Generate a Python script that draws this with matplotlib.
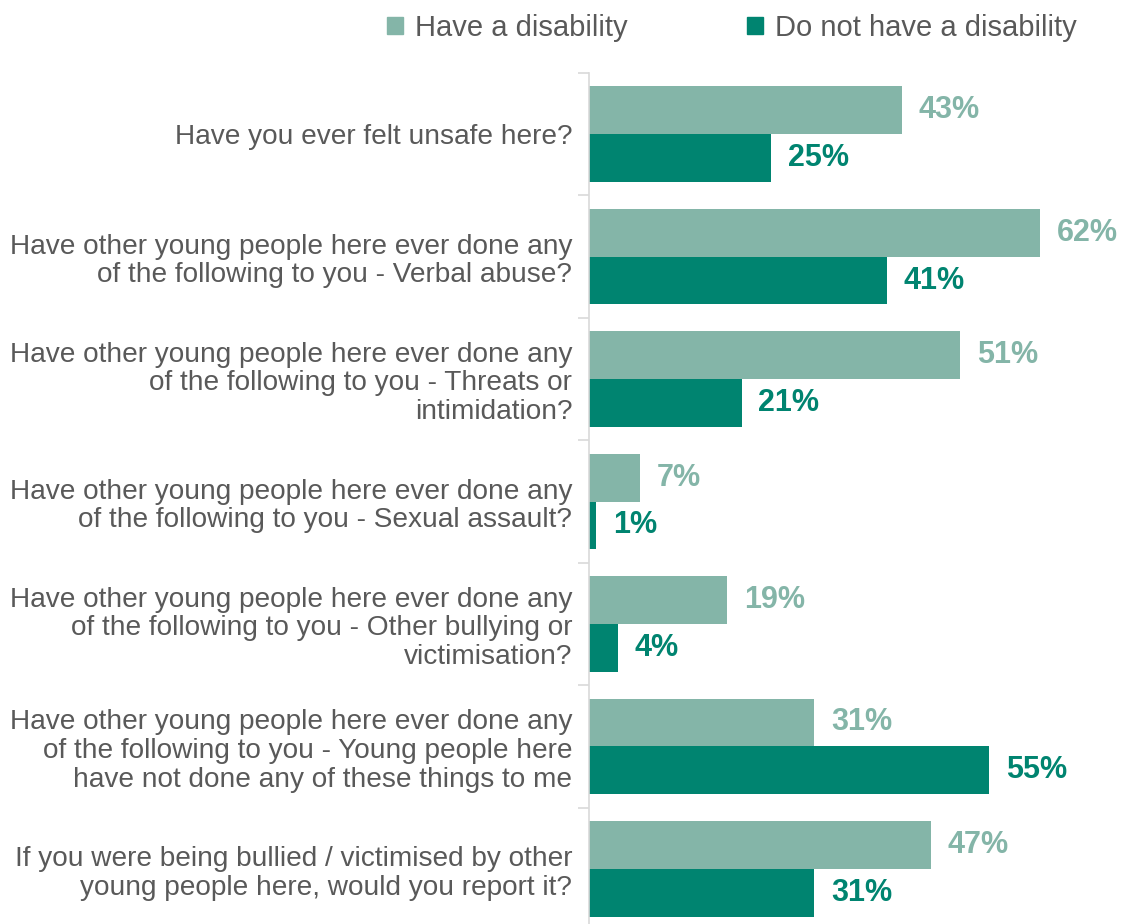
import matplotlib.pyplot as plt
import numpy as np
from matplotlib.patches import Patch

plt.rcParams['font.family'] = ['Liberation Sans', 'DejaVu Sans']

questions = [
    "Have you ever felt unsafe here?",
    "Have other young people here ever done any\nof the following to you - Verbal abuse?",
    "Have other young people here ever done any\nof the following to you - Threats or\nintimidation?",
    "Have other young people here ever done any\nof the following to you - Sexual assault?",
    "Have other young people here ever done any\nof the following to you - Other bullying or\nvictimisation?",
    "Have other young people here ever done any\nof the following to you - Young people here\nhave not done any of these things to me",
    "If you were being bullied / victimised by other\nyoung people here, would you report it?",
]
disability = [43, 62, 51, 7, 19, 31, 47]
no_disability = [25, 41, 21, 1, 4, 55, 31]

light = '#84B5A8'
dark = '#008470'
grey_text = '#595959'
axis_grey = '#D9D9D9'

fig = plt.figure(figsize=(11.24, 9.24), dpi=100)
ax = fig.add_axes([0.524, -0.0065, 0.4724, 0.9275])

n = len(questions)
y = np.arange(n)
h = 0.39
ax.barh(y - h / 2, disability, height=h, color=light)
ax.barh(y + h / 2, no_disability, height=h, color=dark)

for i in range(n):
    ax.text(disability[i] + 2.3, y[i] - h / 2, f"{disability[i]}%", va='center', ha='left',
            fontsize=22, fontweight='bold', color=light)
    ax.text(no_disability[i] + 2.3, y[i] + h / 2, f"{no_disability[i]}%", va='center', ha='left',
            fontsize=22, fontweight='bold', color=dark)

ax.set_xlim(0, 73)
ax.set_ylim(n - 0.5, -0.5)
ax.set_xticks([])
ax.set_yticks(y)
ax.set_yticklabels(questions, fontsize=20.2, color=grey_text, linespacing=1.14)
ax.tick_params(axis='y', length=0, pad=12)
ax.set_yticks(np.arange(n + 1) - 0.5, minor=True)
ax.tick_params(axis='y', which='minor', length=8, color=axis_grey, width=1.2)
for s in ['top', 'right', 'bottom']:
    ax.spines[s].set_visible(False)
ax.spines['left'].set_color(axis_grey)
ax.spines['left'].set_linewidth(1.2)

handles = [Patch(color=light, label='Have a disability'),
           Patch(color=dark, label='Do not have a disability')]
fig.legend(handles=handles, loc='center', bbox_to_anchor=(0.651, 0.970), ncol=2, frameon=False,
           fontsize=21, labelcolor=grey_text, handlelength=0.55, handleheight=0.55,
           handletextpad=0.4, columnspacing=4.1)

fig.savefig('out.png', dpi=100)
